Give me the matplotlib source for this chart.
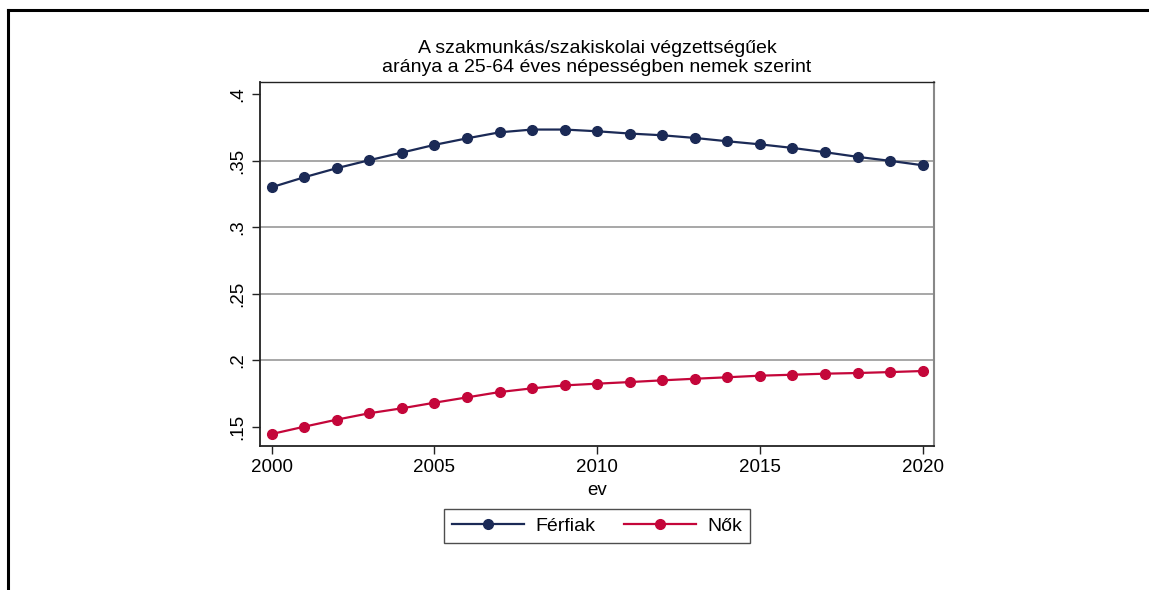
import matplotlib
matplotlib.use("Agg")
import matplotlib.pyplot as plt
from matplotlib.lines import Line2D

plt.rcParams['font.family'] = ['Liberation Sans', 'DejaVu Sans']

years = list(range(2000, 2021))
ferfiak = [0.330, 0.3375, 0.3443, 0.3503, 0.356, 0.3618, 0.3667, 0.3712, 0.3733, 0.3733,
           0.372, 0.3703, 0.369, 0.367, 0.3645, 0.3622, 0.3595, 0.3563, 0.3528, 0.3498, 0.3465]
nok = [0.1447, 0.1502, 0.1555, 0.1603, 0.164, 0.1682, 0.1722, 0.1762, 0.179, 0.1812,
       0.1825, 0.1837, 0.185, 0.1862, 0.1873, 0.1885, 0.1892, 0.190, 0.1905, 0.1912, 0.192]
yticks = [0.15, 0.2, 0.25, 0.3, 0.35, 0.4]
ytick_labels = ['.15', '.2', '.25', '.3', '.35', '.4']
xticks = [2000, 2005, 2010, 2015, 2020]
title = "A szakmunkás/szakiskolai végzettségűek\naránya a 25-64 éves népességben nemek szerint"
series_names = ['Férfiak', 'Nők']

navy = '#1b2a56'
red = '#c4063a'

fig = plt.figure(figsize=(11.49, 5.90), dpi=100)
W, H = 1149, 590
ax = fig.add_axes([260 / W, 1 - 446 / H, (934 - 260) / W, (446 - 82) / H])

ax.plot(years, ferfiak, color=navy, lw=1.6, marker='o', ms=7, label=series_names[0], zorder=3)
ax.plot(years, nok, color=red, lw=1.6, marker='o', ms=7, label=series_names[1], zorder=3)

ax.set_xlim(1999.64, 2020.35)
ax.set_ylim(0.1357, 0.409)
ax.set_yticks(yticks)
ax.set_yticklabels(ytick_labels, rotation=90, va='center')
ax.set_xticks(xticks)
ax.tick_params(axis='both', direction='out', length=6, width=1, labelsize=13.5, color='#222222')
ax.tick_params(axis='y', pad=4)

for yv in yticks[1:-1]:
    ax.axhline(yv, color='#a0a0a0', lw=1.3, zorder=1)

for s in ['left', 'bottom']:
    ax.spines[s].set_color('#222222')
    ax.spines[s].set_linewidth(1.3)
ax.spines['top'].set_color('#222222')
ax.spines['top'].set_linewidth(1.0)
ax.spines['right'].set_color('#888888')
ax.spines['right'].set_linewidth(1.5)

ax.set_xlabel('ev', fontsize=13.5, labelpad=4)
fig.text(597 / W, 1 - 58 / H, title, ha='center', va='center', fontsize=14, linespacing=1.08)

handles = [Line2D([0], [0], color=navy, lw=1.6, marker='o', ms=7),
           Line2D([0], [0], color=red, lw=1.6, marker='o', ms=7)]
leg = fig.legend(handles, series_names, loc='center', bbox_to_anchor=(597 / W, 1 - 526 / H),
                 ncol=2, fontsize=14, frameon=True, fancybox=False, handlelength=3.7,
                 columnspacing=1.5, borderpad=0.4, handletextpad=0.57)
leg.get_frame().set_edgecolor('#222222')
leg.get_frame().set_linewidth(1.0)

# outer frame (top and left)
fig.add_artist(Line2D([8 / W, 1.0], [1 - 10 / H, 1 - 10 / H], color='black', lw=2.2, transform=fig.transFigure))
fig.add_artist(Line2D([8 / W, 8 / W], [1 - 10 / H, 0.0], color='black', lw=2.2, transform=fig.transFigure))

fig.savefig('out.png', dpi=100)
